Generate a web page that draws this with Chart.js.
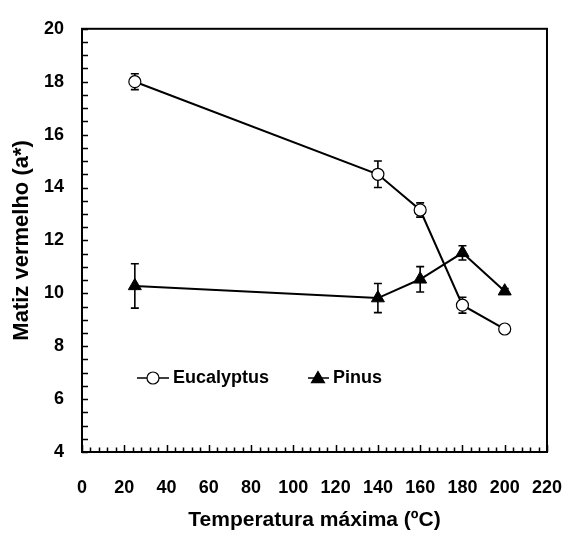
<!DOCTYPE html>
<html><head><meta charset="utf-8">
<script src="https://cdn.jsdelivr.net/npm/chart.js@4"></script>
<style>html,body{margin:0;padding:0;background:#fff}#wrap{width:587px;height:533px}</style>
</head><body><div id="wrap"><canvas id="c" width="587" height="533"></canvas></div>
<script>
// ---- data ----
const temps = [25, 140, 160, 180, 200];
const eucalyptus = [18.0, 14.5, 13.15, 9.55, 8.65];
const eucalyptusErr = [0.3, 0.5, 0.27, 0.3, 0.1];
const pinus = [10.28, 9.82, 10.53, 11.53, 10.08];
const pinusErr = [0.84, 0.55, 0.48, 0.27, 0.1];
const seriesNames = ['Eucalyptus', 'Pinus'];
const xTitle = 'Temperatura máxima (ºC)';
const yTitle = 'Matiz vermelho (a*)';
const xMin = 0, xMax = 220, xStep = 20, xMinorStep = 4;
const yMin = 4, yMax = 20, yStep = 2, yMinorStep = 0.5;

const FONT = "'Liberation Sans', Arial, sans-serif";

const errors = [eucalyptusErr, pinusErr];

const framePlugin = {
  id: 'frame',
  beforeDatasetsDraw(chart) {
    const ctx = chart.ctx, xs = chart.scales.x, ys = chart.scales.y;
    ctx.save();
    ctx.strokeStyle = '#000';
    ctx.lineWidth = 1.6;
    chart.data.datasets.forEach((ds, di) => {
      ds.data.forEach((p, i) => {
        const e = errors[di][i];
        if (!e) return;
        const px = xs.getPixelForValue(p.x);
        const yt = ys.getPixelForValue(p.y + e);
        const yb = ys.getPixelForValue(p.y - e);
        ctx.beginPath();
        ctx.moveTo(px, yt); ctx.lineTo(px, yb);
        ctx.moveTo(px - 4, yt); ctx.lineTo(px + 4, yt);
        ctx.moveTo(px - 4, yb); ctx.lineTo(px + 4, yb);
        ctx.stroke();
      });
    });
    ctx.restore();
  },
  afterDraw(chart) {
    const ctx = chart.ctx, a = chart.chartArea, xs = chart.scales.x, ys = chart.scales.y;
    ctx.save();
    ctx.strokeStyle = '#000';
    // inner ticks
    ctx.lineWidth = 1.5;
    ctx.beginPath();
    for (let v = yMin; v <= yMax + 1e-9; v += yMinorStep) {
      const py = Math.round(ys.getPixelForValue(v)) + 0.5;
      ctx.moveTo(a.left, py); ctx.lineTo(a.left + 6, py);
    }
    for (let v = xMin; v <= xMax + 1e-9; v += xMinorStep) {
      const px = Math.round(xs.getPixelForValue(v)) + 0.5;
      const len = (Math.abs(v % xStep) < 1e-9) ? 7 : 4.5;
      ctx.moveTo(px, a.bottom); ctx.lineTo(px, a.bottom - len);
    }
    ctx.stroke();
    // frame
    ctx.lineWidth = 2;
    ctx.strokeRect(a.left, a.top, a.right - a.left, a.bottom - a.top);
    // legend
    const ly = 378;
    ctx.lineWidth = 1.6;
    ctx.beginPath();
    ctx.moveTo(137, ly); ctx.lineTo(169, ly);
    ctx.moveTo(308, ly); ctx.lineTo(329, ly);
    ctx.stroke();
    ctx.fillStyle = '#fff'; ctx.strokeStyle = '#000'; ctx.lineWidth = 1.2;
    ctx.beginPath(); ctx.arc(153, ly, 6, 0, Math.PI * 2); ctx.fill(); ctx.stroke();
    ctx.fillStyle = '#000';
    ctx.beginPath();
    Chart.helpers.drawPoint(ctx, {pointStyle: 'triangle', radius: 7.5, borderWidth: 1}, 318, ly + 1);
    ctx.fill();
    ctx.font = 'bold 18px ' + FONT;
    ctx.textBaseline = 'middle';
    ctx.textAlign = 'left';
    ctx.fillText(seriesNames[0], 173, ly);
    ctx.fillText(seriesNames[1], 333, ly);
    ctx.restore();
  }
};

new Chart(document.getElementById('c'), {
  type: 'scatter',
  data: {
    datasets: [
      {
        label: seriesNames[0],
        data: temps.map((t, i) => ({x: t, y: eucalyptus[i]})),
        showLine: true,
        borderColor: '#000',
        borderWidth: 2,
        pointStyle: 'circle',
        pointRadius: 6,
        pointBackgroundColor: '#fff',
        pointBorderColor: '#000',
        pointBorderWidth: 1.2
      },
      {
        label: seriesNames[1],
        data: temps.map((t, i) => ({x: t, y: pinus[i]})),
        showLine: true,
        borderColor: '#000',
        borderWidth: 2,
        pointStyle: 'triangle',
        pointRadius: 7.5,
        pointBackgroundColor: '#000',
        pointBorderColor: '#000',
        pointBorderWidth: 1
      }
    ]
  },
  options: {
    responsive: false,
    animation: false,
    layout: {padding: {top: 22, right: 20, left: 0, bottom: 0}},
    plugins: {legend: {display: false}, tooltip: {enabled: false}},
    scales: {
      x: {
        type: 'linear', min: xMin, max: xMax,
        grid: {display: false, drawTicks: false},
        border: {display: false},
        ticks: {stepSize: xStep, color: '#000', font: {family: FONT, size: 18, weight: 'bold'}, padding: 25, maxRotation: 0},
        title: {display: true, text: xTitle, color: '#000', font: {family: FONT, size: 21, weight: 'bold'}, padding: {top: 0, bottom: 0}},
        afterFit(s) { s.height = 81; }
      },
      y: {
        type: 'linear', min: yMin, max: yMax,
        grid: {display: false, drawTicks: false},
        border: {display: false},
        ticks: {stepSize: yStep, color: '#000', font: {family: FONT, size: 18, weight: 'bold'}, padding: 18},
        title: {display: true, text: yTitle, color: '#000', font: {family: FONT, size: 22, weight: 'bold'}, padding: {top: 9, bottom: 0}},
        afterFit(s) { s.width = 82; }
      }
    }
  },
  plugins: [framePlugin]
});
</script>
</body></html>
